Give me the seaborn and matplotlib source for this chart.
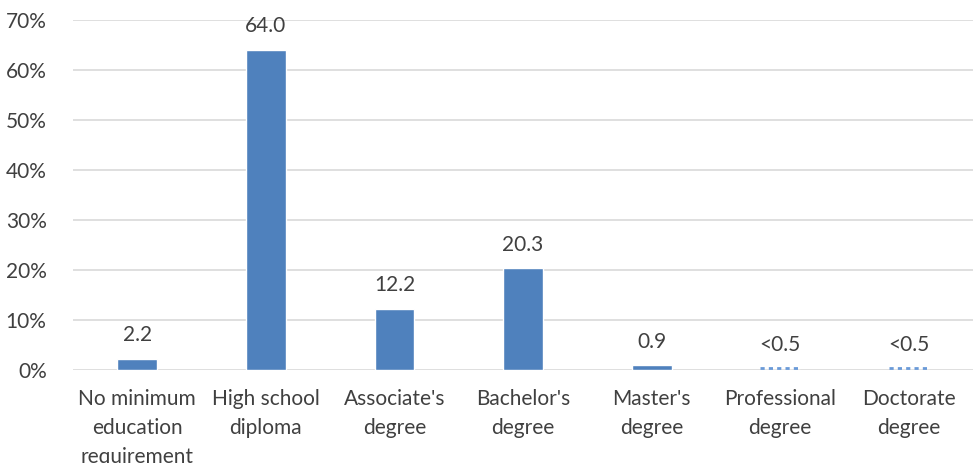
import matplotlib
matplotlib.use("Agg")
import matplotlib.pyplot as plt
import seaborn as sns
import pandas as pd

# Typical education needed for entry: share of employment (%)
categories = [
    "No minimum\neducation\nrequirement",
    "High school\ndiploma",
    "Associate's\ndegree",
    "Bachelor's\ndegree",
    "Master's\ndegree",
    "Professional\ndegree",
    "Doctorate\ndegree",
]
shares = [2.2, 64.0, 12.2, 20.3, 0.9, 0.3, 0.3]
value_labels = ["2.2", "64.0", "12.2", "20.3", "0.9", "<0.5", "<0.5"]
small_share = [False, False, False, False, False, True, True]
y_ticks = [0, 10, 20, 30, 40, 50, 60, 70]

bar_color = "#4F81BD"
text_color = "#404040"
grid_color = "#D9D9D9"

sns.set_theme(style="white")
plt.rcParams["font.family"] = ["Lato", "DejaVu Sans"]

df = pd.DataFrame({
    "category": categories,
    "share": [0 if s else v for v, s in zip(shares, small_share)],
})

fig = plt.figure(figsize=(9.75, 4.63), dpi=100)
ax = fig.add_axes([0.0749, 0.2009, 0.9231, 0.7559])

for t in y_ticks:
    ax.axhline(t, color=grid_color, linewidth=1.2, zorder=0)

sns.barplot(data=df, x="category", y="share", color=bar_color,
            width=0.31, saturation=1, ax=ax, zorder=2)

# Very small shares are shown as a dotted outline at the baseline
for i, (v, s) in enumerate(zip(shares, small_share)):
    if s:
        ax.hlines(v, i - 0.155, i + 0.155, colors="#6A9AD8",
                  linestyles=(0, (1.5, 1.5)), linewidth=2, zorder=3)

for i, (v, lab) in enumerate(zip(shares, value_labels)):
    ax.annotate(lab, (i, v), xytext=(0, 10), textcoords="offset points",
                ha="center", va="bottom", fontsize=15, color=text_color)

ax.set_ylim(0, 70)
ax.set_xlim(-0.5, len(categories) - 0.5)
ax.set_yticks(y_ticks)
ax.set_yticklabels([f"{t}%" for t in y_ticks])
ax.set_xlabel("")
ax.set_ylabel("")
ax.tick_params(axis="both", length=0, labelsize=15, colors=text_color)
ax.tick_params(axis="y", pad=19)
ax.tick_params(axis="x", pad=14)
for lab in ax.get_xticklabels():
    lab.set_linespacing(1.55)
    lab.set_verticalalignment("top")
for sp in ax.spines.values():
    sp.set_visible(False)

fig.savefig("out.png", dpi=100)
